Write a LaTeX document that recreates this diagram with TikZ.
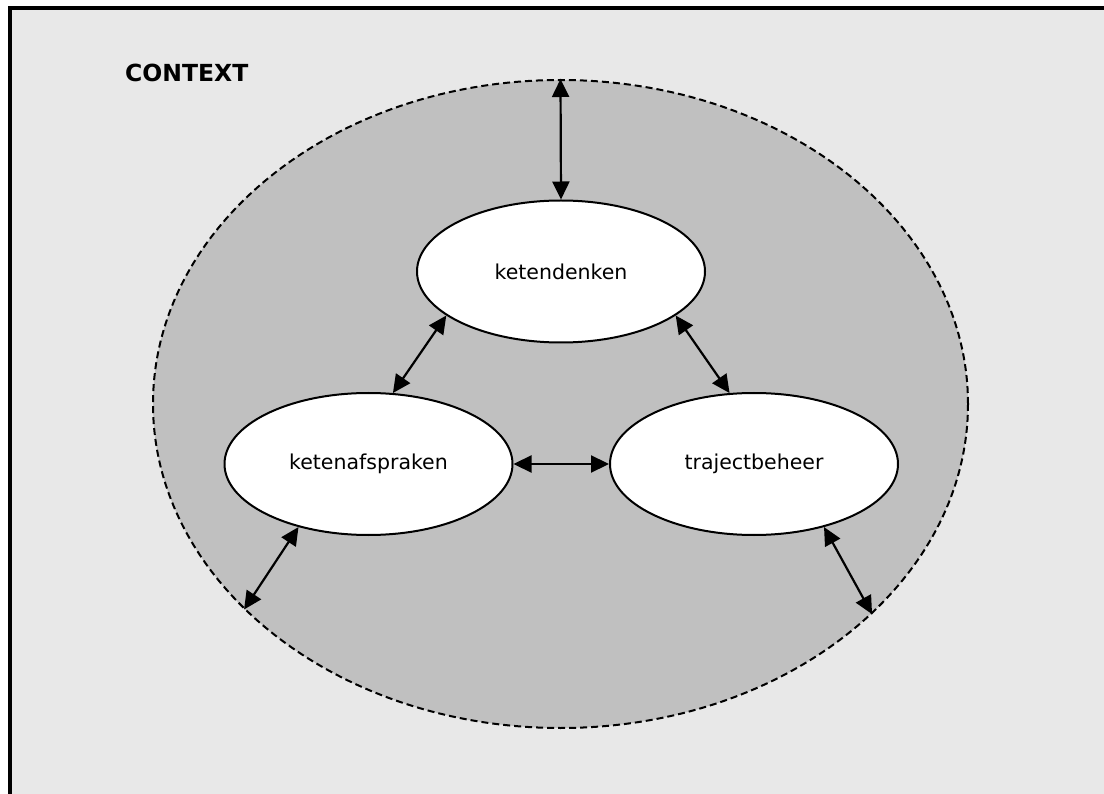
\documentclass[tikz,border=0pt]{standalone}
\usepackage{fontspec}
\setmainfont{DejaVu Sans}
\usetikzlibrary{shapes.geometric,arrows.meta}
\definecolor{pagebg}{HTML}{E8E8E8}
\definecolor{ctxfill}{HTML}{C0C0C0}
\tikzset{
  frame/.style={draw=black,line width=4pt,fill=pagebg},
  ctxellipse/.style={ellipse,draw=black,fill=ctxfill,line width=2pt,
    dash pattern=on 7pt off 4pt,minimum width=815pt,minimum height=648pt,inner sep=0pt},
  topic/.style={ellipse,draw=black,fill=white,line width=2pt,
    minimum width=288pt,minimum height=142pt,inner sep=0pt,
    font=\fontsize{20.5}{24}\selectfont},
  link/.style={line width=2.2pt,
    {Triangle[length=18pt,width=17pt]}-{Triangle[length=18pt,width=17pt]}},
  heading/.style={font=\fontsize{23.5}{28}\selectfont\bfseries,inner sep=0pt}
}
\begin{document}
\begin{tikzpicture}[x=1pt,y=-1pt]
  \useasboundingbox (0,0) rectangle (1104,794);
  % page frame, running off the right and bottom edges
  \begin{scope}
    \clip (0,0) rectangle (1104,794);
    \draw[frame] (9.5,8.5) rectangle (1200,900);
  \end{scope}
  \node[heading,anchor=base west] (title) at (125,82) {CONTEXT};
  % context region
  \node[ctxellipse] (ctx) at (560.5,404) {};
  % the three topics
  \node[topic] (denken) at (561,271.5) {ketendenken};
  \node[topic] (afspraken) at (368.5,464) {ketenafspraken};
  \node[topic] (beheer) at (754,464) {trajectbeheer};
  % interactions
  \draw[link] (ctx.north) -- (denken.north);
  \draw[link] (denken.201) -- (afspraken.71);
  \draw[link] (denken.339) -- (beheer.109);
  \draw[link] (afspraken.east) -- (beheer.west);
  \draw[link] (afspraken.222) -- (ctx.213.2);
  \draw[link] (beheer.318) -- (ctx.326.8);
\end{tikzpicture}
\end{document}
